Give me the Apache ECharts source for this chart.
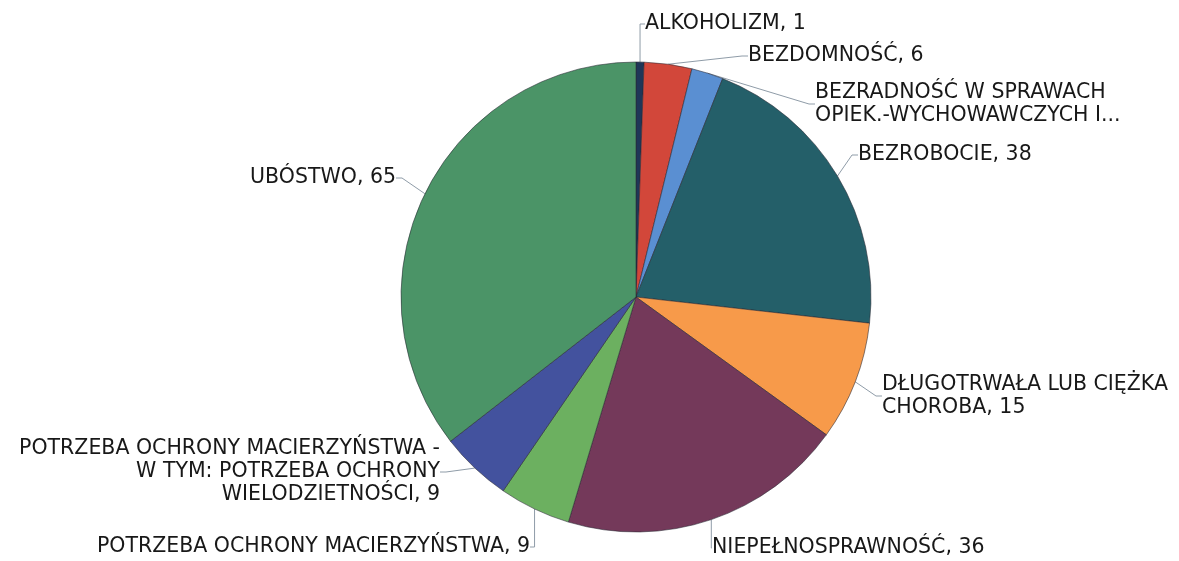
<!DOCTYPE html>
<html>
<head>
<meta charset="utf-8">
<script src="https://cdn.jsdelivr.net/npm/echarts@6/dist/echarts.min.js"></script>
<style>
  html, body { margin: 0; padding: 0; background: #fff; }
  #chart { width: 1179px; height: 561px; }
</style>
</head>
<body>
<div id="chart"></div>
<script>
const categories = [
  "ALKOHOLIZM",
  "BEZDOMNOŚĆ",
  "BEZRADNOŚĆ W SPRAWACH OPIEK.-WYCHOWAWCZYCH I PROWADZENIA GOSPODARSTWA DOMOWEGO",
  "BEZROBOCIE",
  "DŁUGOTRWAŁA LUB CIĘŻKA CHOROBA",
  "NIEPEŁNOSPRAWNOŚĆ",
  "POTRZEBA OCHRONY MACIERZYŃSTWA",
  "POTRZEBA OCHRONY MACIERZYŃSTWA - W TYM: POTRZEBA OCHRONY WIELODZIETNOŚCI",
  "UBÓSTWO",
];
const values = [1, 6, 4, 38, 15, 36, 9, 9, 65];
// text as shown next to each slice
const labelTexts = [
  "ALKOHOLIZM, 1",
  "BEZDOMNOŚĆ, 6",
  "BEZRADNOŚĆ W SPRAWACH\nOPIEK.-WYCHOWAWCZYCH I...",
  "BEZROBOCIE, 38",
  "DŁUGOTRWAŁA LUB CIĘŻKA\nCHOROBA, 15",
  "NIEPEŁNOSPRAWNOŚĆ, 36",
  "POTRZEBA OCHRONY MACIERZYŃSTWA, 9",
  "POTRZEBA OCHRONY MACIERZYŃSTWA -\nW TYM: POTRZEBA OCHRONY\nWIELODZIETNOŚCI, 9",
  "UBÓSTWO, 65",
];
const colors = ["#1f3658", "#d2473a", "#5a8fd2", "#245f69", "#f79a4a", "#74395a", "#6cb060", "#43529e", "#4b9467"];

// where each label sits (x, y, align)
const labelPlaces = [
  [645, 24, "left"],
  [748, 56, "left"],
  [815, 104, "left"],
  [858, 155, "left"],
  [882, 396, "left"],
  [712, 548, "left"],
  [530, 547, "right"],
  [440, 472, "right"],
  [396, 178, "right"],
];

const chart = echarts.init(document.getElementById("chart"));

const option = {
  backgroundColor: "#fff",
  animation: false,
  series: [
    {
      type: "pie",
      center: [636, 297],
      radius: 235,
      startAngle: 90,
      clockwise: true,
      avoidLabelOverlap: false,
      itemStyle: {
        borderColor: "rgba(40,40,50,0.7)",
        borderWidth: 0.8,
      },
      label: {
        show: true,
        position: "outside",
        fontFamily: "DejaVu Sans",
        fontSize: 20.5,
        lineHeight: 23,
        color: "#181818",
        formatter: (p) => labelTexts[p.dataIndex],
      },
      labelLine: {
        show: true,
        length: 10,
        length2: 6,
        lineStyle: { color: "#8f9ca8", width: 1 },
      },
      labelLayout: (params) => {
        const pl = labelPlaces[params.dataIndex];
        return {
          x: pl[0],
          y: pl[1],
          align: pl[2],
          verticalAlign: "middle",
        };
      },
      data: categories.map((name, i) => ({
        name,
        value: values[i],
        itemStyle: { color: colors[i] },
        label: { align: labelPlaces[i][2] },
      })),
    },
  ],
};

chart.setOption(option);
</script>
</body>
</html>
